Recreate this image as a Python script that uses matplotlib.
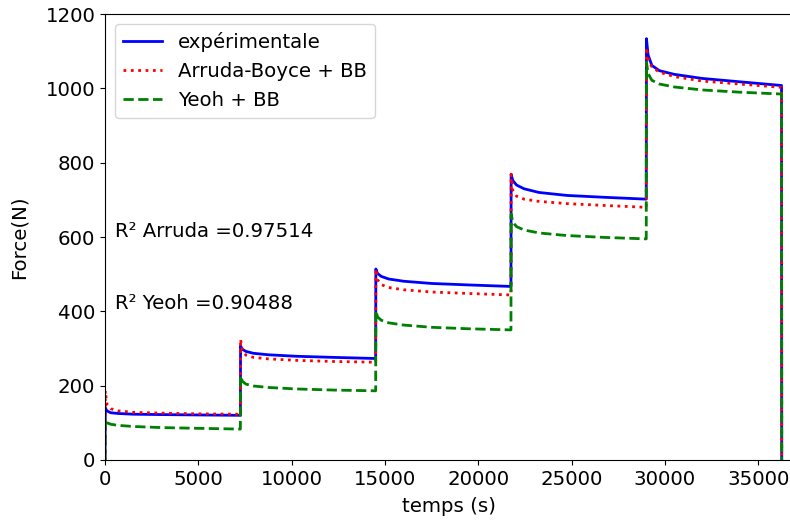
import matplotlib
matplotlib.use("Agg")
from matplotlib import pyplot as plt

# temps (s) : pic puis relaxation sur chaque palier
temps = [0,
         10, 100, 300, 700, 1500, 3000, 5000, 7250,
         7260, 7350, 7550, 7950, 8750, 10250, 12250, 14500,
         14510, 14600, 14800, 15200, 16000, 17500, 19500, 21750,
         21760, 21850, 22050, 22450, 23250, 24750, 26750, 29000,
         29010, 29100, 29300, 29700, 30500, 32000, 34000, 36250,
         36260]

# Force (N)
force_exp = [0,
             140, 132, 127, 125, 123, 122, 121, 120,
             307, 298, 292, 287, 283, 279, 276, 273,
             514, 502, 494, 487, 481, 475, 471, 467,
             769, 752, 740, 730, 720, 712, 707, 702,
             1134, 1090, 1062, 1048, 1038, 1027, 1018, 1008,
             0]
force_arruda = [0,
                186, 150, 138, 132, 128, 126, 124, 123,
                325, 295, 282, 276, 272, 268, 265, 263,
                514, 485, 472, 464, 458, 452, 448, 444,
                769, 725, 710, 702, 696, 690, 685, 680,
                1110, 1080, 1058, 1044, 1032, 1020, 1012, 1003,
                0]
force_yeoh = [0,
              110, 100, 96, 93, 90, 87, 85, 83,
              227, 212, 204, 199, 195, 191, 188, 186,
              402, 385, 376, 369, 363, 357, 353, 350,
              662, 640, 628, 619, 611, 604, 599, 595,
              1071, 1040, 1022, 1012, 1004, 996, 990, 985,
              0]

r2_arruda = 0.97514
r2_yeoh = 0.90488

plt.rcParams['font.size'] = 14.2

fig = plt.figure(figsize=(7.9, 5.25), dpi=100)
ax = fig.add_axes([0.133, 0.124, 0.87, 0.849])

ax.plot(temps, force_exp, '-', color='blue', lw=2, label='expérimentale')
ax.plot(temps, force_arruda, ':', color='red', lw=2, label='Arruda-Boyce + BB')
ax.plot(temps, force_yeoh, '--', color='green', lw=2, label='Yeoh + BB')

ax.text(540, 616, 'R² Arruda =' + str(r2_arruda), va='center')
ax.text(540, 420, 'R² Yeoh =' + str(r2_yeoh), va='center')

ax.set_xlim(0, 36830)
ax.set_ylim(0, 1200)
ax.set_xlabel('temps (s)', labelpad=6)
ax.set_ylabel('Force(N)', labelpad=12)
ax.legend(loc='upper left')

fig.savefig('out.png', dpi=100)
